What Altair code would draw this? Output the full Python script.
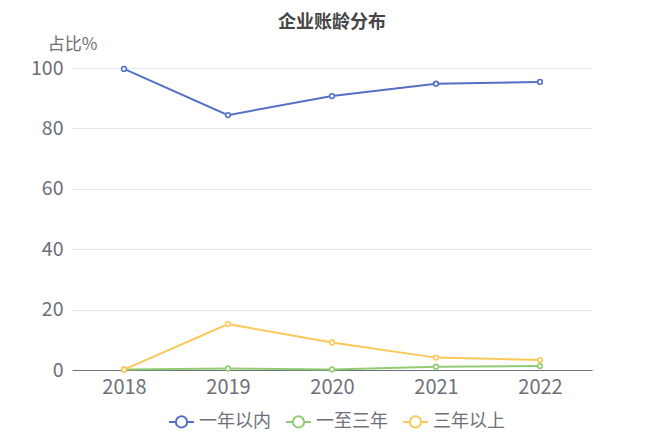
import altair as alt
import pandas as pd

years = ["2018", "2019", "2020", "2021", "2022"]
series_names = ["一年以内", "一至三年", "三年以上"]
within_one = [99.7, 84.4, 90.7, 94.8, 95.4]
one_to_three = [0.2, 0.5, 0.2, 1.1, 1.3]
over_three = [0.1, 15.2, 9.1, 4.1, 3.3]
colors = ["#5470C6", "#91CC75", "#FAC858"]
y_ticks = [0, 20, 40, 60, 80, 100]

rows = []
for name, vals in zip(series_names, [within_one, one_to_three, over_three]):
    for yr, v in zip(years, vals):
        rows.append({"year": yr, "series": name, "value": v})
df = pd.DataFrame(rows)

FONT = "Noto Sans CJK SC"
GREY = "#6E7079"

legend_symbol = "M-1,0L-0.45,0M0.45,0L1,0M0.45,0A0.45,0.45,0,1,1,-0.45,0A0.45,0.45,0,1,1,0.45,0"

base = alt.Chart(df).encode(
    x=alt.X(
        "year:O",
        sort=years,
        scale=alt.Scale(type="point", padding=0.5),
        axis=alt.Axis(
            title=None, labelAngle=0, labelFontSize=20, labelColor=GREY,
            labelPadding=7, ticks=False, domainColor=GREY, domainWidth=1,
            grid=False, labelFont=FONT,
        ),
    ),
    y=alt.Y(
        "value:Q",
        scale=alt.Scale(domain=[0, 100], nice=False),
        axis=alt.Axis(
            values=y_ticks, title="占比%", titleAngle=0, titleX=0, titleY=-24,
            titleAlign="center", titleBaseline="middle", titleFontWeight="normal",
            titleFontSize=17, titleColor=GREY, titleFont=FONT,
            labelFontSize=19.5, labelColor=GREY, labelPadding=9, labelFont=FONT,
            ticks=False, domain=False, gridColor="#E0E6F1", gridWidth=1,
        ),
    ),
    color=alt.Color(
        "series:N",
        sort=series_names,
        scale=alt.Scale(domain=series_names, range=colors),
        legend=alt.Legend(
            title=None, orient="none", direction="horizontal",
            legendX=96, legendY=340,
            symbolType=legend_symbol, symbolSize=625, symbolStrokeWidth=2,
            symbolFillColor="white", labelFontSize=18, labelColor=GREY,
            labelFont=FONT, labelOffset=4, columnPadding=11,
        ),
    ),
)

line = base.mark_line(strokeWidth=2)
points = base.mark_point(filled=False, fill="white", fillOpacity=1, size=22,
                         strokeWidth=1.6, opacity=1)

chart = (
    alt.layer(line, points)
    .properties(
        width=520,
        height=302,
        title=alt.TitleParams(
            "企业账龄分布", anchor="middle", fontSize=18, fontWeight="bold",
            color="#464646", font=FONT, offset=3,
        ),
        autosize=alt.AutoSizeParams(type="none"),
        padding={"left": 64, "top": 60, "right": 48, "bottom": 62},
    )
    .configure_view(stroke=None)
)

chart.save("out.html", embed_options={"renderer": "svg", "actions": False})
